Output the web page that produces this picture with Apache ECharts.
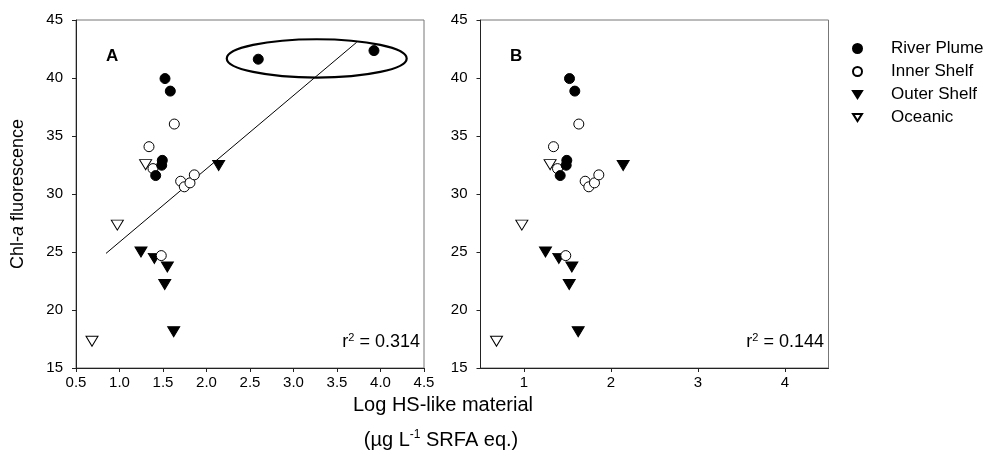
<!DOCTYPE html>
<html>
<head>
<meta charset="utf-8">
<script src="https://cdn.jsdelivr.net/npm/echarts@6/dist/echarts.min.js"></script>
<style>html,body{margin:0;padding:0;background:#fff}#c{width:1001px;height:465px}</style>
</head>
<body>
<div id="c"></div>
<script>
// ---- data (x = Log HS-like material, y = Chl-a fluorescence) ----
const riverPlumeA = [[2.595,41.62],[3.925,42.36],[1.523,39.95],[1.584,38.87],[1.492,32.9],[1.485,32.48],[1.416,31.59]];
const riverPlumeB = [[1.523,39.95],[1.584,38.87],[1.492,32.9],[1.485,32.48],[1.416,31.59]];
const innerShelf = [[1.630,36.03],[1.339,34.08],[1.385,32.19],[1.703,31.1],[1.745,30.62],[1.81,30.96],[1.86,31.65],[1.48,24.69]];
const outerShelf = [[2.14,32.45],[1.247,25.0],[1.40,24.45],[1.55,23.71],[1.52,22.2],[1.623,18.12]];
const oceanic = [[1.30,32.53],[0.975,27.32],[0.684,17.3]];
const fitLineA = [[0.845,24.88],[3.726,43.08]];
const ellipseA = [[3.267,41.69,1.034,1.65]]; // cx, cy, rx, ry in data units
const xTicksA = [0.5,1.0,1.5,2.0,2.5,3.0,3.5,4.0,4.5];
const xTicksB = [1,2,3,4];
const yTicks = [15,20,25,30,35,40,45];
const legendNames = ['River Plume', 'Inner Shelf', 'Outer Shelf', 'Oceanic'];
const r2A = '0.314', r2B = '0.144';

const FONT = 'Liberation Sans, Arial, sans-serif';
const chart = echarts.init(document.getElementById('c'));

function xAxisCfg(gi, ticks, fmt) {
  return {
    type: 'value', gridIndex: gi, min: 0.5, max: 4.5,
    splitLine: {show: false},
    axisLine: {show: true, lineStyle: {color: '#222', width: 1}},
    axisTick: {show: true, length: 4, inside: false, customValues: ticks, lineStyle: {color: '#222'}},
    axisLabel: {customValues: ticks, formatter: fmt, fontFamily: FONT, fontSize: 15, color: '#000', margin: 7}
  };
}
function yAxisCfg(gi, withName) {
  const c = {
    type: 'value', gridIndex: gi, min: 15, max: 45, interval: 5,
    splitLine: {show: false},
    axisLine: {show: true, lineStyle: {color: '#222', width: 1}},
    axisTick: {show: true, length: 4, customValues: yTicks, lineStyle: {color: '#222'}},
    axisLabel: {customValues: yTicks, fontFamily: FONT, fontSize: 15, color: '#000', margin: 13}
  };
  if (withName) {
    c.name = '{n|Chl-}{i|a}{n| fluorescence}';
    c.nameLocation = 'middle';
    c.nameGap = 49;
    c.nameTextStyle = {rich: {
      n: {fontFamily: FONT, fontSize: 18, color: '#000'},
      i: {fontFamily: FONT, fontSize: 18, color: '#000', fontStyle: 'italic'}
    }};
  }
  return c;
}

const circleFilled = {symbol: 'circle', symbolSize: 10, itemStyle: {color: '#000', borderColor: '#000', borderWidth: 1, opacity: 1}};
const circleOpen = {symbol: 'circle', symbolSize: 10, itemStyle: {color: '#fff', borderColor: '#000', borderWidth: 1, opacity: 1}};
const triFilled = {symbol: 'triangle', symbolRotate: 180, symbolSize: [12, 10], itemStyle: {color: '#000', borderColor: '#000', borderWidth: 1, opacity: 1}};
const triOpen = {symbol: 'triangle', symbolRotate: 180, symbolSize: [12, 10], itemStyle: {color: '#fff', borderColor: '#000', borderWidth: 1, opacity: 1}};

function scat(name, data, gi, style) {
  return Object.assign({type: 'scatter', name: name, data: data, xAxisIndex: gi, yAxisIndex: gi, z: 3, animation: false, emphasis: {disabled: true}}, JSON.parse(JSON.stringify(style)));
}

const series = [
  {type: 'line', data: fitLineA, xAxisIndex: 0, yAxisIndex: 0, symbol: 'none', lineStyle: {color: '#000', width: 1}, z: 2, animation: false, silent: true},
  {type: 'custom', data: ellipseA, xAxisIndex: 0, yAxisIndex: 0, z: 4, animation: false, silent: true,
    renderItem: function (params, api) {
      const c = api.coord([api.value(0), api.value(1)]);
      const s = api.size([api.value(2), api.value(3)]);
      return {type: 'ellipse', shape: {cx: c[0], cy: c[1], rx: s[0], ry: s[1]}, style: {fill: 'none', stroke: '#000', lineWidth: 2.2}};
    }},
  scat('Oceanic', oceanic, 0, triOpen),
  scat('Outer Shelf', outerShelf, 0, triFilled),
  scat('Inner Shelf', innerShelf, 0, circleOpen),
  scat('River Plume', riverPlumeA, 0, circleFilled),
  scat('Oceanic', oceanic, 1, triOpen),
  scat('Outer Shelf', outerShelf, 1, triFilled),
  scat('Inner Shelf', innerShelf, 1, circleOpen),
  scat('River Plume', riverPlumeB, 1, circleFilled)
];

const downTri = 'path://M0,0 L10,0 L5,8 Z';
const legendIcons = ['circle', 'circle', downTri, downTri];

chart.setOption({
  backgroundColor: '#fff',
  animation: false,
  grid: [
    {left: 76, top: 20, width: 348, height: 348, show: true, borderColor: '#777', borderWidth: 1, backgroundColor: 'transparent'},
    {left: 480.5, top: 20, width: 348, height: 348, show: true, borderColor: '#777', borderWidth: 1, backgroundColor: 'transparent'}
  ],
  xAxis: [
    xAxisCfg(0, xTicksA, v => v.toFixed(1)),
    xAxisCfg(1, xTicksB, v => String(v))
  ],
  yAxis: [yAxisCfg(0, true), yAxisCfg(1, false)],
  legend: {
    orient: 'vertical', left: 847, top: 35, itemWidth: 9, itemHeight: 9, itemGap: 6,
    symbolRotate: 0,
    data: legendNames.map((n, i) => ({name: n, icon: legendIcons[i]})),
    textStyle: {fontFamily: FONT, fontSize: 17, color: '#000', padding: [0, 0, 0, 24], lineHeight: 17},
    selectedMode: false
  },
  graphic: [
    {type: 'text', left: 106, top: 48, style: {text: 'A', font: 'bold 17px ' + FONT, fill: '#000'}},
    {type: 'text', left: 510, top: 48, style: {text: 'B', font: 'bold 17px ' + FONT, fill: '#000'}},
    {type: 'text', right: 1001 - 420, top: 332, style: {
      text: '{n|r}{s|2}{n| = ' + r2A + '}',
      rich: {n: {fontFamily: FONT, fontSize: 18, fill: '#000'}, s: {fontFamily: FONT, fontSize: 11, fill: '#000', padding: [0, 0, 9, 0]}}
    }},
    {type: 'text', right: 1001 - 824, top: 332, style: {
      text: '{n|r}{s|2}{n| = ' + r2B + '}',
      rich: {n: {fontFamily: FONT, fontSize: 18, fill: '#000'}, s: {fontFamily: FONT, fontSize: 11, fill: '#000', padding: [0, 0, 9, 0]}}
    }},
    {type: 'text', x: 443, y: 405, style: {text: 'Log HS-like material', font: '20px ' + FONT, fill: '#000', align: 'center', verticalAlign: 'middle'}},
    {type: 'text', x: 441, y: 440, style: {
      text: '{n|(µg L}{s|-1}{n| SRFA eq.)}', align: 'center', verticalAlign: 'middle',
      rich: {n: {fontFamily: FONT, fontSize: 20, fill: '#000'}, s: {fontFamily: FONT, fontSize: 12, fill: '#000', padding: [0, 0, 10, 0]}}
    }}
  ],
  series: series
});
</script>
</body>
</html>
